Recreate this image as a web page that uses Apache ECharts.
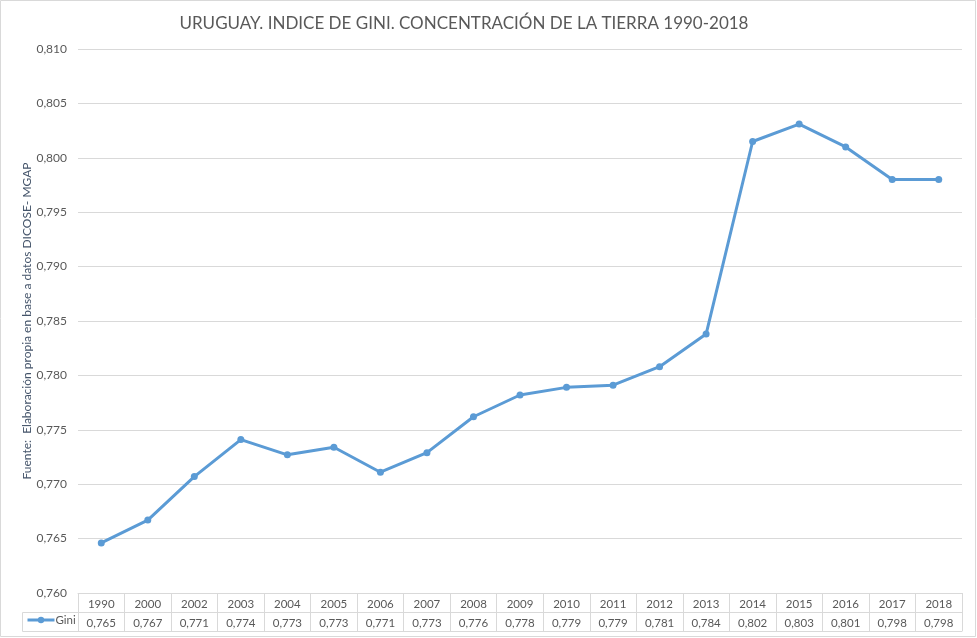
<!DOCTYPE html>
<html><head><meta charset="utf-8">
<script src="https://cdn.jsdelivr.net/npm/echarts@6/dist/echarts.min.js"></script>
<style>html,body{margin:0;padding:0;background:#fff}#c{width:977px;height:638px}</style>
</head><body><div id="c"></div>
<script>
const years = ['1990','2000','2002','2003','2004','2005','2006','2007','2008','2009','2010','2011','2012','2013','2014','2015','2016','2017','2018'];
const gini = [0.7646,0.7667,0.7707,0.7741,0.7727,0.7734,0.7711,0.7729,0.7762,0.7782,0.7789,0.7791,0.7808,0.7838,0.8015,0.8031,0.8010,0.7980,0.7980];
const giniTable = ['0,765','0,767','0,771','0,774','0,773','0,773','0,771','0,773','0,776','0,778','0,779','0,779','0,781','0,784','0,802','0,803','0,801','0,798','0,798'];
const titleText = 'URUGUAY. INDICE DE GINI. CONCENTRACIÓN DE LA TIERRA 1990-2018';
const yName = 'Fuente:  Elaboración propia en base a datos DICOSE- MGAP';

const FONT = 'Lato';
const GRID = '#D9D9D9';
const TXT = '#595959';
const chart = echarts.init(document.getElementById('c'), null, {renderer:'canvas'});
const hidden = {show:false};
chart.setOption({
  animation:false,
  textStyle:{fontFamily:FONT},
  title:{text:titleText,left:459,textAlign:'center',top:10,
    textStyle:{fontFamily:FONT,fontSize:17,fontWeight:'normal',color:TXT}},
  grid:{left:78,right:15,top:49,bottom:45},
  legend:{left:26,top:614,padding:0,itemWidth:27,itemHeight:8,
    lineStyle:{width:3},
    textStyle:{fontFamily:FONT,fontSize:11.5,color:TXT,padding:[0,0,0,-4]},
    data:['Gini']},
  xAxis:[
    {type:'category',data:years,position:'bottom',boundaryGap:true,
     axisLine:{lineStyle:{color:GRID,width:1}},
     axisTick:{show:true,length:38,interval:0,lineStyle:{color:GRID}},
     axisLabel:{interval:0,margin:5,fontSize:11.5,color:TXT,fontFamily:FONT},
     splitLine:hidden},
    {type:'category',data:giniTable,position:'bottom',boundaryGap:true,offset:19,
     axisLine:{lineStyle:{color:GRID,width:1}},axisTick:hidden,
     axisLabel:{interval:0,margin:5,fontSize:11.5,color:TXT,fontFamily:FONT},
     splitLine:hidden},
    {type:'category',data:years,position:'bottom',offset:38,
     axisLine:{lineStyle:{color:GRID,width:1}},axisTick:hidden,axisLabel:hidden,splitLine:hidden}
  ],
  yAxis:{type:'value',min:0.76,max:0.81,interval:0.005,
    name:yName,nameLocation:'middle',nameGap:45,nameRotate:90,nameMoveOverlap:false,
    nameTextStyle:{fontFamily:FONT,fontSize:12,color:'#44546A'},
    axisLine:hidden,axisTick:hidden,
    axisLabel:{margin:11,fontSize:12,color:TXT,fontFamily:FONT,
      formatter:v=>v.toFixed(3).replace('.',',')},
    splitLine:{lineStyle:{color:GRID,width:1}}},
  series:[{name:'Gini',type:'line',data:gini,xAxisIndex:0,
    symbol:'circle',symbolSize:7,
    itemStyle:{color:'#5B9BD5'},lineStyle:{color:'#5B9BD5',width:3}}],
  graphic:[
    {type:'rect',shape:{x:0.5,y:0.5,width:975,height:636},style:{fill:null,stroke:GRID,lineWidth:1},silent:true},
    {type:'rect',shape:{x:22.5,y:612.5,width:56,height:19},style:{fill:null,stroke:GRID,lineWidth:1},silent:true,z:-1}
  ]
});
</script></body></html>
